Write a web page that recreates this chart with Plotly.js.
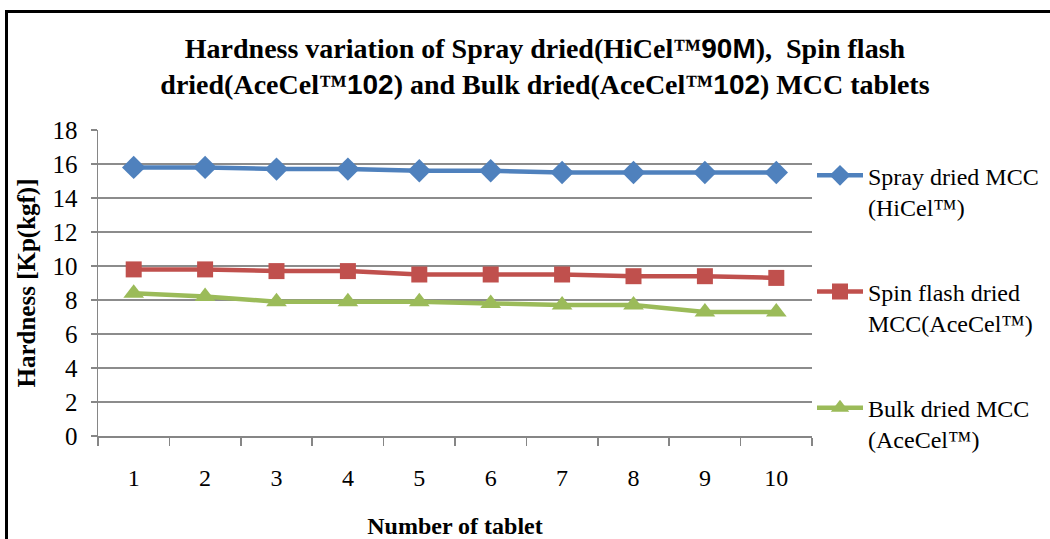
<!DOCTYPE html>
<html>
<head>
<meta charset="utf-8">
<script src="https://cdn.plot.ly/plotly-3.0.1.min.js"></script>
<style>
  html, body { margin:0; padding:0; background:#fff; }
  #chart { position:absolute; left:0; top:0; width:1050px; height:539px; }
  #frame { position:absolute; left:5px; top:10px; width:1060px; height:540px;
           border-left:3px solid #000; border-top:3px solid #000; pointer-events:none; }
</style>
</head>
<body>
<div id="chart"></div>
<div id="frame"></div>
<script>
const tablets = ["1","2","3","4","5","6","7","8","9","10"];
const sprayDried = [15.8, 15.8, 15.7, 15.7, 15.6, 15.6, 15.5, 15.5, 15.5, 15.5];
const spinFlashDried = [9.8, 9.8, 9.7, 9.7, 9.5, 9.5, 9.5, 9.4, 9.4, 9.3];
const bulkDried = [8.4, 8.2, 7.9, 7.9, 7.9, 7.8, 7.7, 7.7, 7.3, 7.3];
const seriesNames = ["Spray dried MCC<br>(HiCel™)", "Spin flash dried<br>MCC(AceCel™)", "Bulk dried MCC<br>(AceCel™)"];

const serif = "'Liberation Serif', 'Times New Roman', serif";
const sansB = "font-family:'Liberation Sans', Arial, sans-serif;font-weight:bold";

const traces = [
  {x: tablets, y: sprayDried, name: seriesNames[0], type: "scatter", mode: "lines+markers",
   line: {color: "#4F81BD", width: 4.5}, marker: {symbol: "diamond", size: 18, color: "#4F81BD"}, legend: "legend"},
  {x: tablets, y: spinFlashDried, name: seriesNames[1], type: "scatter", mode: "lines+markers",
   line: {color: "#C0504D", width: 4.5}, marker: {symbol: "square", size: 16, color: "#C0504D"}, legend: "legend2"},
  {x: tablets, y: bulkDried, name: seriesNames[2], type: "scatter", mode: "lines+markers",
   line: {color: "#9BBB59", width: 4.5}, marker: {symbol: "triangle-up", size: 18, color: "#9BBB59"}, legend: "legend3"}
];

const legendBase = {x: 1.0, xanchor: "left", yanchor: "middle", valign: "top",
  font: {family: serif, size: 24, color: "#000"}, bgcolor: "rgba(0,0,0,0)", itemwidth: 46};

const layout = {
  width: 1050, height: 539,
  margin: {l: 98, r: 238, t: 130, b: 103, autoexpand: false},
  paper_bgcolor: "#fff", plot_bgcolor: "#fff",
  title: {
    text: "<b>Hardness variation of Spray dried(HiCel™<span style=\"" + sansB + "\">90M</span>),  Spin flash<br>dried(AceCel™<span style=\"" + sansB + "\">102</span>) and Bulk dried(AceCel™<span style=\"" + sansB + "\">102</span>) MCC tablets</b>",
    font: {family: serif, size: 28, color: "#000"},
    x: 0.519, xref: "container", xanchor: "center",
    y: 0.893, yref: "container", yanchor: "middle"
  },
  xaxis: {
    type: "category",
    range: [-0.5, 9.5],
    showgrid: false,
    showline: true, linecolor: "#868686", linewidth: 1.5,
    ticks: "outside", tickson: "boundaries", ticklen: 8, tickcolor: "#868686", tickwidth: 1.5,
    ticklabelstandoff: 20,
    tickfont: {family: serif, size: 24, color: "#000"},
    title: {text: "<b>Number of tablet</b>", font: {family: serif, size: 24, color: "#000"}, standoff: 27},
    zeroline: false
  },
  yaxis: {
    range: [0, 18], dtick: 2, tick0: 0,
    showgrid: true, gridcolor: "#8c8c8c", gridwidth: 1.5,
    showline: true, linecolor: "#868686", linewidth: 1.5,
    ticks: "outside", ticklen: 6, tickcolor: "#868686", tickwidth: 1.5,
    ticklabelstandoff: 8,
    tickfont: {family: serif, size: 25, color: "#000"},
    title: {text: "<b>Hardness [Kp(kgf)]</b>", font: {family: serif, size: 25, color: "#000"}, standoff: 10},
    zeroline: false
  },
  legend: Object.assign({}, legendBase, {y: 0.80}),
  legend2: Object.assign({}, legendBase, {y: 0.42}),
  legend3: Object.assign({}, legendBase, {y: 0.04}),
  showlegend: true
};

Plotly.newPlot("chart", traces, layout, {displayModeBar: false, staticPlot: true});
</script>
</body>
</html>
